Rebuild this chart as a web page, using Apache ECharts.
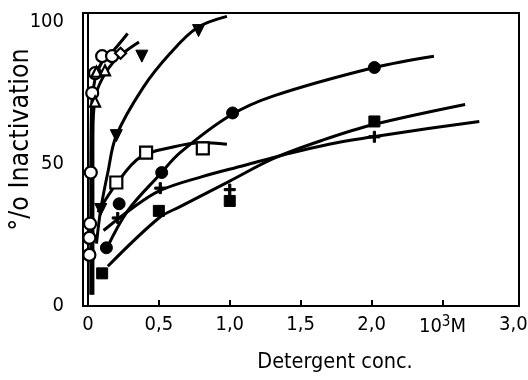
<!DOCTYPE html>
<html>
<head>
<meta charset="utf-8">
<script src="https://cdn.jsdelivr.net/npm/echarts@6/dist/echarts.min.js"></script>
<style>
  html, body { margin: 0; padding: 0; background: #fff; }
  #chart { width: 528px; height: 380px; }
</style>
</head>
<body>
<div id="chart"></div>
<script>
// measured points, [detergent conc (10^-3 M), % inactivation]
const openCircles = [[0.01, 18], [0.01, 24], [0.015, 29], [0.02, 47], [0.03, 75], [0.05, 82], [0.1, 88], [0.17, 88]]
const openTriangles = [[0.05, 72], [0.06, 82.5], [0.12, 83]]
const openDiamonds = [[0.23, 89]]
const downTriangles = [[0.09, 34], [0.2, 60], [0.38, 88], [0.78, 97]]
const filledCircles = [[0.13, 20.5], [0.22, 36], [0.52, 47], [1.02, 68], [2.02, 84]]
const filledSquares = [[0.1, 11.5], [0.5, 33.5], [1.0, 37], [2.02, 65]]
const crosses = [[0.21, 31], [0.51, 41.5], [1.0, 41], [2.02, 59.6]]
const openSquares = [[0.2, 43.5], [0.41, 54], [0.81, 55.5]]

// hand-drawn fitted curves
const openCircleCurve = [[0.02, 4], [0.02, 40], [0.025, 70], [0.05, 80], [0.1, 86], [0.18, 90], [0.28, 96]]
const triangleCurve = [[0.035, 4], [0.035, 60], [0.05, 73], [0.1, 80], [0.2, 87], [0.36, 93]]
const downTriangleCurve = [[0.06, 22], [0.09, 34], [0.14, 47], [0.2, 60], [0.39, 77], [0.58, 89], [0.77, 98], [0.98, 102]]
const filledCircleCurve = [[0.13, 20], [0.28, 33.5], [0.51, 46.5], [0.65, 54], [1.0, 67], [1.31, 74], [2.02, 84], [2.44, 88]]
const filledSquareCurve = [[0.14, 14], [0.5, 31], [0.65, 35], [1.0, 44], [1.31, 52], [1.66, 58.5], [2.02, 64], [2.66, 71]]
const crossCurve = [[0.11, 26.6], [0.3, 34], [0.5, 40.5], [0.8, 45.5], [1.1, 49.5], [1.4, 53.5], [1.7, 57], [2.0, 59.5], [2.4, 62.5], [2.76, 65]]
const openSquareCurve = [[0.07, 33], [0.2, 43], [0.37, 52.5], [0.6, 56], [0.8, 57.5], [0.98, 57]]

const xTickValues = [0, 0.5, 1, 1.5, 2, 2.5, 3]
const xTickLabels = ['0', '0,5', '1,0', '1,5', '2,0', '{n|10}{s|3}{n|M}', '3,0']
const yTickValues = [0, 50, 100]

const ink = '#000'
const font = '"DejaVu Sans Condensed", sans-serif'
const crossPath = 'path://M4,0 L6,0 L6,4 L10,4 L10,6 L6,6 L6,10 L4,10 L4,6 L0,6 L0,4 L4,4 Z'

function curve(data) {
  return {
    type: 'line',
    data,
    smooth: 0.35,
    showSymbol: false,
    symbol: 'none',
    silent: true,
    lineStyle: { color: ink, width: 3 },
    z: 2,
  }
}

function marks(data, symbol, size, filled, extra) {
  return Object.assign(
    {
      type: 'scatter',
      data,
      symbol,
      symbolSize: size,
      itemStyle: filled
        ? { color: ink, borderColor: ink, borderWidth: 1, opacity: 1 }
        : { color: '#fff', borderColor: ink, borderWidth: 2.2, opacity: 1 },
      z: 5,
    },
    extra || {},
  )
}

const chart = echarts.init(document.getElementById('chart'), null, { renderer: 'canvas' })

chart.setOption({
  animation: false,
  backgroundColor: '#fff',
  grid: {
    left: 83,
    right: 9,
    top: 13,
    bottom: 74,
    containLabel: false,
    outerBoundsMode: 'none',
    show: true,
    borderColor: ink,
    borderWidth: 2,
    backgroundColor: 'transparent',
  },
  xAxis: {
    type: 'value',
    min: -0.035,
    max: 3.04,
    name: 'Detergent conc.',
    nameLocation: 'middle',
    nameGap: 45,
    nameMoveOverlap: false,
    nameTextStyle: { fontFamily: font, fontSize: 21.5, color: ink, padding: [0, 0, 0, 68] },
    axisLine: { lineStyle: { color: ink, width: 2 } },
    axisTick: { inside: true, length: 6, customValues: xTickValues.slice(0, 6), lineStyle: { color: ink, width: 2 } },
    splitLine: { show: false },
    axisLabel: {
      customValues: xTickValues,
      margin: 9,
      color: ink,
      fontFamily: font,
      fontSize: 20,
      formatter: (v) => xTickLabels[xTickValues.indexOf(v)],
      rich: {
        n: { fontFamily: font, fontSize: 20, color: ink },
        s: { fontFamily: font, fontSize: 15, color: ink, padding: [0, 0, 9, 0] },
      },
    },
  },
  yAxis: {
    type: 'value',
    min: 0,
    max: 103.2,
    name: '°/o Inactivation',
    nameLocation: 'middle',
    nameRotate: 90,
    nameGap: 48,
    nameMoveOverlap: false,
    nameTextStyle: { fontFamily: font, fontSize: 26.5, color: ink, padding: [0, 0, 0, 40] },
    axisLine: { lineStyle: { color: ink, width: 2 } },
    axisTick: { show: false },
    splitLine: { show: false },
    axisLabel: {
      customValues: yTickValues,
      margin: 19,
      color: ink,
      fontFamily: font,
      fontSize: 20,
    },
  },
  series: [
    curve(openCircleCurve),
    curve(triangleCurve),
    curve(downTriangleCurve),
    curve(filledCircleCurve),
    curve(filledSquareCurve),
    curve(crossCurve),
    curve(openSquareCurve),
    marks(openCircles, 'circle', 12, false),
    marks(openTriangles, 'triangle', 10, false),
    marks(openDiamonds, 'diamond', 11, false),
    marks(downTriangles, 'triangle', 12, true, { symbolRotate: 180 }),
    marks(filledCircles, 'circle', 12, true),
    marks(filledSquares, 'rect', 11, true),
    marks(crosses, crossPath, 11, true),
    marks(openSquares, 'rect', 12, false),
  ],
})
</script>
</body>
</html>
